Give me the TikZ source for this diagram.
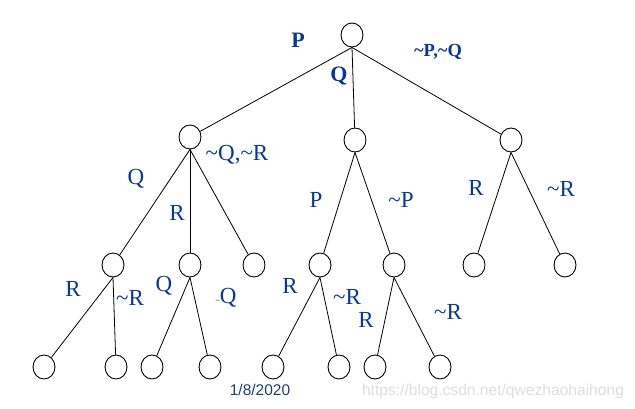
\documentclass[tikz,border=0pt]{standalone}
\usepackage{fontspec}
\setmainfont{Liberation Serif}
\setsansfont{Liberation Sans}
\usetikzlibrary{shapes.geometric}
\definecolor{lblue}{RGB}{8,56,150}
\definecolor{dblue}{RGB}{30,62,120}
\definecolor{wmark}{RGB}{222,222,222}
\newcommand{\tl}{\textasciitilde}
\tikzset{
  tnode/.style={draw, ellipse, minimum width=22pt, minimum height=24pt, inner sep=0pt, line width=0.9pt},
  edge/.style={line width=0.8pt},
  lbl/.style={text=lblue, font=\fontsize{23}{23}\selectfont, inner sep=0pt},
  blbl/.style={text=lblue, font=\fontsize{22}{22}\selectfont\bfseries, inner sep=0pt},
  slbl/.style={text=lblue, font=\fontsize{18.5}{18.5}\selectfont\bfseries, inner sep=0pt}
}
\begin{document}
\begin{tikzpicture}[x=1pt,y=-1pt]
\useasboundingbox (0,0) rectangle (635,409);
% nodes
\node[tnode] (r) at (352,35) {};
\node[tnode] (a) at (190,137) {};
\node[tnode] (b) at (355,140) {};
\node[tnode] (c) at (511,140) {};
\node[tnode] (a1) at (113,265) {};
\node[tnode] (a2) at (190,265) {};
\node[tnode] (a3) at (254,265) {};
\node[tnode] (b1) at (320,265) {};
\node[tnode] (b2) at (394,265) {};
\node[tnode] (c1) at (474,265) {};
\node[tnode] (c2) at (565,265) {};
\node[tnode] (a1a) at (44,367) {};
\node[tnode] (a1b) at (116,367) {};
\node[tnode] (a2a) at (152,367) {};
\node[tnode] (a2b) at (210,367) {};
\node[tnode] (b1a) at (273,367) {};
\node[tnode] (b1b) at (339,367) {};
\node[tnode] (b2a) at (375,367) {};
\node[tnode] (b2b) at (440,367) {};
% edges
\draw[edge] (r.south) -- (a);
\draw[edge] (r.south) -- (b);
\draw[edge] (r.south) -- (c);
\draw[edge] (a.south) -- (a1);
\draw[edge] (a.south) -- (a2);
\draw[edge] (a.south) -- (a3);
\draw[edge] (b.south) -- (b1);
\draw[edge] (b.south) -- (b2);
\draw[edge] (c.south) -- (c1);
\draw[edge] (c.south) -- (c2);
\draw[edge] (a1.south) -- (a1a);
\draw[edge] (a1.south) -- (a1b);
\draw[edge] (a2.south) -- (a2a);
\draw[edge] (a2.south) -- (a2b);
\draw[edge] (b1.south) -- (b1a);
\draw[edge] (b1.south) -- (b1b);
\draw[edge] (b2.south) -- (b2a);
\draw[edge] (b2.south) -- (b2b);
% labels
\node[blbl] (lP) at (298,40) {P};
\node[blbl] (lQ) at (339,76) {Q};
\node[slbl] (lnPnQ) at (438,52) {\tl P,\tl Q};
\node[lbl] (lnQnR) at (237,155) {\tl Q,\tl R};
\node[lbl] (laQ) at (136,179) {Q};
\node[lbl] (laR) at (177,213) {R};
\node[lbl] (lbP) at (316,200) {P};
\node[lbl] (lbnP) at (401,200) {\tl P};
\node[lbl] (lcR) at (476,188) {R};
\node[lbl] (lcnR) at (561,189) {\tl R};
\node[lbl] (la1R) at (73,289) {R};
\node[lbl] (la1nR) at (130,298) {\tl R};
\node[lbl] (la2Q) at (164,286) {Q};
\node[lbl] (la2nQ) at (226,298) {{\fontsize{8}{8}\selectfont\tl}Q};
\node[lbl] (lb1R) at (290,286) {R};
\node[lbl] (lb1nR) at (347,297) {\tl R};
\node[lbl] (lb2R) at (366,320) {R};
\node[lbl] (lb2nR) at (448,312) {\tl R};
\node[text=dblue, font=\sffamily\fontsize{15.5}{15.5}\selectfont, inner sep=0pt] (date) at (260,390) {1/8/2020};
\node[text=wmark, font=\sffamily\fontsize{15.6}{15.6}\selectfont, inner sep=0pt] (wm) at (493,391) {https://blog.csdn.net/qwezhaohaihong};
\end{tikzpicture}
\end{document}
